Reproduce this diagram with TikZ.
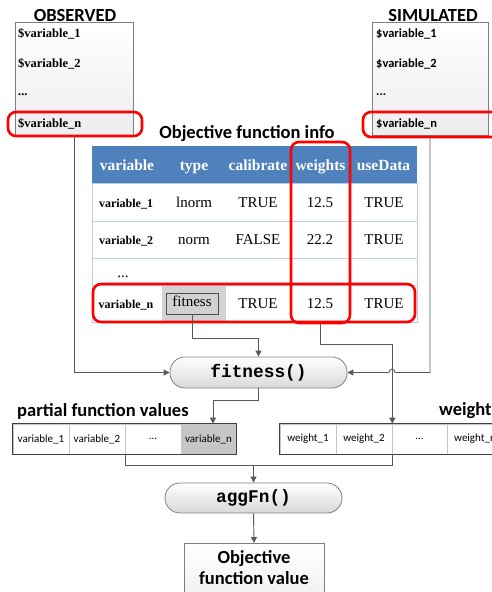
\documentclass[tikz,border=0pt]{standalone}
\usepackage{fontspec}
\setmainfont{Liberation Serif}
\setsansfont{Carlito}
\setmonofont{Liberation Mono}
\usetikzlibrary{arrows.meta,calc}
\definecolor{hdrblue}{HTML}{4F81BD}
\definecolor{cellline}{HTML}{B8CCE4}
\definecolor{conncol}{HTML}{595959}
\definecolor{boxline}{HTML}{7F7F7F}
\definecolor{hl}{HTML}{FF0000}
\begin{document}
\begin{tikzpicture}[x=1pt,y=-1pt,
  conn/.style={draw=conncol, line width=0.9pt},
  arr/.style={conn, -{Triangle[length=6pt,width=6pt]}},
  redbox/.style={draw=hl, line width=2.6pt, rounded corners=8pt, inner sep=0},
  varbox/.style={draw=boxline, line width=0.8pt, top color=white, bottom color=gray!14, inner sep=0},
  title/.style={font=\sffamily\bfseries\fontsize{18.5}{20}\selectfont, inner sep=0},
  obsitem/.style={font=\rmfamily\bfseries\fontsize{12.5}{14}\selectfont, anchor=west, inner sep=0},
  simitem/.style={font=\sffamily\bfseries\fontsize{12.5}{14}\selectfont, anchor=west, inner sep=0},
  hcell/.style={font=\rmfamily\bfseries\fontsize{15.5}{17}\selectfont, text=white, inner sep=0, text height=0.66em, text depth=0pt},
  vcell/.style={font=\rmfamily\bfseries\fontsize{12}{14}\selectfont, inner sep=0, text height=0.66em, text depth=0pt},
  bcell/.style={font=\rmfamily\fontsize{15}{17}\selectfont, inner sep=0, text height=0.66em, text depth=0pt},
  pill/.style={draw=boxline, line width=0.8pt, rounded corners=15pt, top color=white, bottom color=gray!30, minimum width=177pt, minimum height=31pt, font=\ttfamily\bfseries\fontsize{17.8}{20}\selectfont, inner sep=0},
  rowcell/.style={minimum width=56pt, minimum height=30pt, inner sep=0, font=\sffamily\fontsize{11}{13}\selectfont, draw=gray!45, line width=0.6pt},
  rowframe/.style={draw=black!75, line width=0.9pt},
]
\useasboundingbox (0,0) rectangle (491,592);

% OBSERVED
\node[varbox, minimum width=118pt, minimum height=113pt] (obsbox) at (74,78.5) {};
\node[title] (obst) at (75,15) {OBSERVED};
\node[obsitem] (o1) at (18,34) {\$variable\_1};
\node[obsitem] (o2) at (18,64) {\$variable\_2};
\node[obsitem] (o3) at (18,95) {...};
\node[obsitem] (o4) at (18,124) {\$variable\_n};
\node[redbox, minimum width=134pt, minimum height=24pt] (obsred) at (75,124) {};

% SIMULATED
\node[varbox, minimum width=116pt, minimum height=113pt] (simbox) at (430,78.5) {};
\node[title] (simt) at (433,15) {SIMULATED};
\node[simitem] (s1) at (376,34) {\$variable\_1};
\node[simitem] (s2) at (376,64) {\$variable\_2};
\node[simitem] (s3) at (376,95) {...};
\node[simitem] (s4) at (376,124) {\$variable\_n};
\node[redbox, minimum width=147pt, minimum height=25pt] (simred) at (436.5,124.5) {};

% table
\node[title] (ttitle) at (247,134) {Objective function info};
\node[fill=hdrblue, minimum width=325pt, minimum height=37pt, inner sep=0] (hdr) at (254.5,164.5) {};
\node[draw=cellline, fill=white, line width=0.8pt, minimum width=325pt, minimum height=139pt, inner sep=0] (tbody) at (254.5,252.5) {};
\node[fill=gray!35, minimum width=64pt, minimum height=36pt, inner sep=0] (fitcell) at (194,304) {};
\draw[cellline, line width=0.8pt] (tbody.west |- 0,221) -- (tbody.east |- 0,221);
\draw[cellline, line width=0.8pt] (tbody.west |- 0,258) -- (tbody.east |- 0,258);
\draw[cellline, line width=0.8pt] (tbody.west |- 0,285) -- (tbody.east |- 0,285);

\node[hcell] (h1) at (127,167) {variable};
\node[hcell] (h2) at (194,167) {type};
\node[hcell] (h3) at (258,167) {calibrate};
\node[hcell] (h4) at (320.5,167) {weights};
\node[hcell] (h5) at (383.5,167) {useData};

\node[vcell] (r1c1) at (126,204) {variable\_1};
\node[bcell] (r1c2) at (194,204) {lnorm};
\node[bcell] (r1c3) at (258,204) {TRUE};
\node[bcell] (r1c4) at (320,204) {12.5};
\node[bcell] (r1c5) at (384,204) {TRUE};

\node[vcell] (r2c1) at (126,241.5) {variable\_2};
\node[bcell] (r2c2) at (194,241.5) {norm};
\node[bcell] (r2c3) at (258,241.5) {FALSE};
\node[bcell] (r2c4) at (320,241.5) {22.2};
\node[bcell] (r2c5) at (384,241.5) {TRUE};

\node[bcell] (r3c1) at (123,274) {...};

\node[vcell] (r4c1) at (126,305.5) {variable\_n};
\node[bcell, draw=gray!60!black, line width=0.8pt, minimum width=52pt, minimum height=21pt] (fitbox) at (192,303.5) {fitness};
\node[bcell] (r4c3) at (258,305.5) {TRUE};
\node[bcell] (r4c4) at (320,305.5) {12.5};
\node[bcell] (r4c5) at (384,305.5) {TRUE};

\node[redbox, minimum width=322pt, minimum height=38pt] (redrow) at (254,303) {};
\node[redbox, minimum width=59pt, minimum height=181pt] (redcol) at (320.5,232.5) {};

% fitness()
\node[pill] (fit) at (258.5,372.5) {fitness()};

% partial function values
\node[title, anchor=west] (plabel) at (17,411) {partial function values};
\node[rowcell] (p1) at (41,439) {variable\_1};
\node[rowcell] (p2) at (97,439) {variable\_2};
\node[rowcell] (p3) at (153,439) {...};
\node[rowcell, fill=gray!45, minimum width=55pt] (p4) at (208.5,439) {variable\_n};
\draw[rowframe] (p1.north west) rectangle (p4.south east);

% weights
\node[title, anchor=west] (wlabel) at (439,411) {weights};
\node[rowcell] (w1) at (308,439) {weight\_1};
\node[rowcell] (w2) at (364,439) {weight\_2};
\node[rowcell, minimum width=55pt] (w3) at (419.5,439) {...};
\node[rowcell] (w4) at (475,439) {weight\_n};
\draw[rowframe] (w1.north west) rectangle (w4.south east);

% aggFn and result
\node[pill, minimum height=30pt] (agg) at (253.5,498) {aggFn()};
\node[varbox, minimum width=140pt, minimum height=70pt, anchor=north] (obj) at (254,543) {};
\node[title, align=center, font=\sffamily\bfseries\fontsize{18.5}{21}\selectfont] (objtxt) at (254,567.5) {Objective\\function value};

% connectors
\draw[arr] (obsbox.south) |- (fit.west);
\draw[arr] (simbox.south) -- (simbox.south |- fit.east) -- (395,372.5) .. controls (395,368) and (389,368) .. (389,372.5) -- (fit.east);
\draw[arr] (fitbox.south) -- (fitbox.south |- 0,338) -| (fit.north);
\draw[arr] (redcol.south) -- (redcol.south |- 0,344) -| (w2.north east);
\draw[arr] (fit.south) -- (fit.south |- 0,400) -| (p4.north -| 213,0);
\draw[conn] (p2.south east) -- (p2.south east |- 0,465) -- (w2.south east |- 0,465) -- (w2.south east);
\draw[arr] (agg.north |- 0,465) -- (agg.north);
\draw[arr] (agg.south) -- (obj.north);
\end{tikzpicture}
\end{document}
